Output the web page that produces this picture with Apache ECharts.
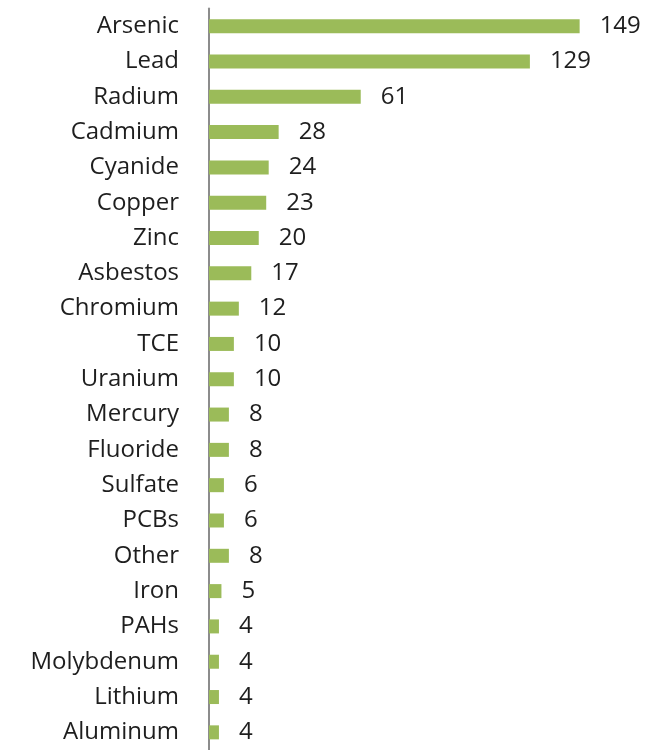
<!DOCTYPE html>
<html>
<head>
<meta charset="utf-8">
<script src="https://cdn.jsdelivr.net/npm/echarts@6/dist/echarts.min.js"></script>
<style>
  html, body { margin: 0; padding: 0; background: #ffffff; }
  #chart { width: 646px; height: 750px; }
</style>
</head>
<body>
<div id="chart"></div>
<script>
// Contaminants, listed top to bottom
const contaminants = ['Arsenic', 'Lead', 'Radium', 'Cadmium', 'Cyanide', 'Copper', 'Zinc',
  'Asbestos', 'Chromium', 'TCE', 'Uranium', 'Mercury', 'Fluoride', 'Sulfate', 'PCBs',
  'Other', 'Iron', 'PAHs', 'Molybdenum', 'Lithium', 'Aluminum'];
// Count for each contaminant
const counts = [149, 129, 61, 28, 24, 23, 20, 17, 12, 10, 10, 8, 8, 6, 6, 8, 5, 4, 4, 4, 4];

const chart = echarts.init(document.getElementById('chart'), null, { renderer: 'canvas' });
const font = '"Open Sans", "DejaVu Sans", sans-serif';

chart.setOption({
  animation: false,
  backgroundColor: '#ffffff',
  grid: { left: 209, top: 8.5, width: 398, height: 747, containLabel: false },
  xAxis: {
    type: 'value', min: 0, max: 160, show: false
  },
  yAxis: {
    type: 'category',
    data: contaminants,
    inverse: true,
    axisLine: { show: true, lineStyle: { color: '#8c8c8c', width: 2 } },
    axisTick: { show: false },
    splitLine: { show: false },
    axisLabel: { color: '#1e1e1e', fontSize: 24, fontFamily: font, margin: 30 }
  },
  series: [{
    type: 'bar',
    data: counts,
    barWidth: 14,
    itemStyle: { color: '#9bbb59' },
    label: {
      show: true, position: 'right', distance: 20,
      color: '#1e1e1e', fontSize: 24, fontFamily: font
    }
  }]
});
</script>
</body>
</html>
